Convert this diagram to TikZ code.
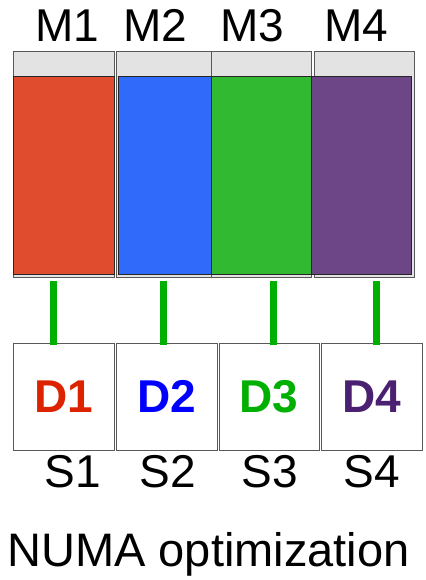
\documentclass[tikz,border=0pt]{standalone}
\usepackage{fontspec}
\setmainfont{Liberation Sans}

\definecolor{memred}{HTML}{DF4C2E}
\definecolor{memblue}{HTML}{306AFA}
\definecolor{memgreen}{HTML}{32B932}
\definecolor{mempurple}{HTML}{6C4686}
\definecolor{devred}{HTML}{DD2200}
\definecolor{devblue}{HTML}{0000FF}
\definecolor{devgreen}{HTML}{00B000}
\definecolor{devpurple}{HTML}{4B2070}
\definecolor{linkgreen}{HTML}{00B000}

\tikzset{
  membox/.style={draw=black!65, fill=black!11, line width=1pt, minimum height=225pt},
  memfill/.style={draw=black!85, line width=1pt, minimum height=197pt},
  devbox/.style={draw=black!65, fill=white, line width=1pt, minimum height=107pt, font=\fontsize{46}{50}\selectfont\bfseries},
  link/.style={linkgreen, line width=7pt},
}

\begin{document}
\begin{tikzpicture}[x=1pt, y=-1pt, every node/.style={font=\fontsize{46}{50}\selectfont, inner sep=0pt}]
	\useasboundingbox (0,0) rectangle (425,580);
	% memory blocks
	\node[membox, minimum width=101pt] (m1) at (63.5,164.5) {};
	\node[membox, minimum width=95pt] (m2) at (163.5,164.5) {};
	\node[membox, minimum width=100pt] (m3) at (261,164.5) {};
	\node[membox, minimum width=100pt] (m4) at (364,164.5) {};
	\node[memfill, fill=memred, minimum width=101pt] (r1) at (63.5,175.5) {};
	\node[memfill, fill=memblue, minimum width=93pt] (r2) at (164.5,175.5) {};
	\node[memfill, fill=memgreen, minimum width=100pt] (r3) at (261,175.5) {};
	\node[memfill, fill=mempurple, minimum width=100pt] (r4) at (361,175.5) {};
	\node[anchor=base] (l1) at (67,42) {M1};
	\node[anchor=base] (l2) at (155,42) {M2};
	\node[anchor=base] (l3) at (252,42) {M3};
	\node[anchor=base] (l4) at (356.5,42) {M4};
	% devices
	\node[devbox, minimum width=101pt, text=devred] (d1) at (63.5,396.5) {D1};
	\node[devbox, minimum width=101pt, text=devblue] (d2) at (166.5,396.5) {D2};
	\node[devbox, minimum width=100pt, text=devgreen] (d3) at (269,396.5) {D3};
	\node[devbox, minimum width=101pt, text=devpurple] (d4) at (371.5,396.5) {D4};
	\node[anchor=base] (s1) at (72.5,487) {S1};
	\node[anchor=base] (s2) at (167.5,487) {S2};
	\node[anchor=base] (s3) at (270,487) {S3};
	\node[anchor=base] (s4) at (372,487) {S4};
	% links
	\draw[link] ([xshift=-10.5pt, yshift=-3pt]m1.south) -- ([xshift=-10.5pt, yshift=-2pt]d1.north);
	\draw[link] ([yshift=-3pt]m2.south) -- ([xshift=-3pt, yshift=-2pt]d2.north);
	\draw[link] ([xshift=12.5pt, yshift=-3pt]m3.south) -- ([xshift=4.5pt, yshift=-2pt]d3.north);
	\draw[link] ([xshift=12.5pt, yshift=-3pt]m4.south) -- ([xshift=5pt, yshift=-2pt]d4.north);
	\node[anchor=base, font=\fontsize{47}{50}\selectfont] (title) at (208.5,566) {NUMA optimization};
\end{tikzpicture}
\end{document}
